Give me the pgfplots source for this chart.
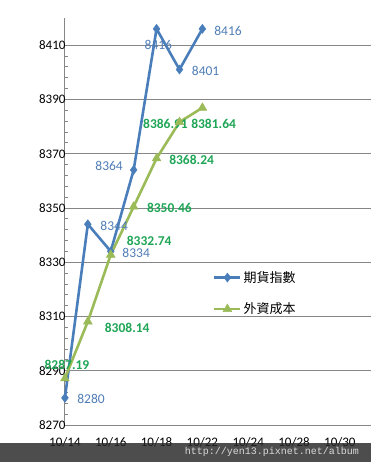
\documentclass[border=0pt]{standalone}
\usepackage{pgfplots}
\pgfplotsset{compat=1.18}
\usepackage{fontspec}
\setmainfont{Carlito}
\newfontfamily\cjk{Noto Sans CJK TC}
\newfontfamily\mono{Liberation Mono}
\definecolor{lblue}{RGB}{74,126,187}
\definecolor{lgreen}{RGB}{155,187,89}
\definecolor{tblue}{RGB}{79,125,182}
\definecolor{tgreen}{RGB}{30,165,85}
\definecolor{gridc}{RGB}{134,134,134}
\begin{document}
\begin{tikzpicture}[x=1pt,y=1pt]
\useasboundingbox (0,0) rectangle (371,462);
\begin{axis}[
  at={(64pt,37pt)}, anchor=south west,
  width=307pt, height=407pt, scale only axis,
  clip=false,
  xmin=-0.04, xmax=13.36,
  ymin=8270, ymax=8420,
  axis x line*=bottom, axis y line*=left,
  axis line style={gridc, line width=0.8pt, -},
  xtick={0,2,4,6,8,10,12},
  xticklabels={10/14,10/16,10/18,10/22,10/24,10/28,10/30},
  x tick style={draw=none},
  ytick={8270,8290,...,8410},
  minor y tick num=4,
  y tick style={gridc, line width=0.8pt},
  major tick length=0pt,
  minor tick length=4pt,
  tick align=inside,
  ymajorgrids,
  major grid style={gridc, line width=0.8pt},
  yticklabel style={anchor=east, xshift=5pt},
  xticklabel style={yshift=-9pt},
  tick label style={font=\fontsize{13}{15}\selectfont, text=black},
  /pgf/number format/assume math mode=true,
  /pgf/number format/1000 sep={},
  legend style={draw=none, fill=none, at={(0.485,0.383)}, anchor=north west,
    font=\cjk\fontsize{13}{15}\selectfont, row sep=15pt, inner sep=0pt},
  legend cell align=left,
  legend image code/.code={\draw[mark repeat=2,mark phase=2,#1] plot coordinates {(0pt,0pt) (13pt,0pt) (26pt,0pt)};},
]
\addplot[lblue, line width=2.6pt, mark=diamond*, mark size=4.5pt, mark options={solid, fill=lblue, line width=0.5pt}]
  coordinates {(0,8280) (1,8344) (2,8334) (3,8364) (4,8416) (5,8401) (6,8416)};
\addlegendentry{期貨指數}
\addplot[lgreen, line width=2.6pt, mark=triangle*, mark size=5pt, mark options={solid, fill=lgreen, line width=0.5pt}]
  coordinates {(0,8287.19) (1,8308.14) (2,8332.74) (3,8350.46) (4,8368.24) (5,8381.64) (6,8386.91)};
\addlegendentry{外資成本}
\begin{scope}[every node/.style={font=\fontsize{13.5}{15}\selectfont, text=tblue, inner sep=0pt}]
\node at (axis cs:1.14,8279.6) {8280};
\node at (axis cs:2.15,8343.3) {8344};
\node at (axis cs:3.11,8333.4) {8334};
\node at (axis cs:1.93,8365.4) {8364};
\node at (axis cs:4.08,8410) {8416};
\node at (axis cs:6.14,8400.4) {8401};
\node at (axis cs:7.12,8415.2) {8416};
\end{scope}
\begin{scope}[every node/.style={font=\bfseries\fontsize{13.5}{15}\selectfont, text=tgreen, inner sep=0pt}]
\node at (axis cs:0.09,8292.1) {8287.19};
\node at (axis cs:2.72,8305.7) {8308.14};
\node at (axis cs:3.68,8337.8) {8332.74};
\node at (axis cs:4.56,8350.0) {8350.46};
\node at (axis cs:5.53,8367.6) {8368.24};
\node at (axis cs:4.39,8380.9) {8386.91};
\node at (axis cs:6.49,8380.9) {8381.64};
\end{scope}
\end{axis}
\fill[black!85, opacity=0.82] (0,0) rectangle (371,19);
\node[font=\mono\fontsize{10}{12}\selectfont, text=black!15, anchor=center] at (272,10) {http://yen13.pixnet.net/album};
\end{tikzpicture}
\end{document}
